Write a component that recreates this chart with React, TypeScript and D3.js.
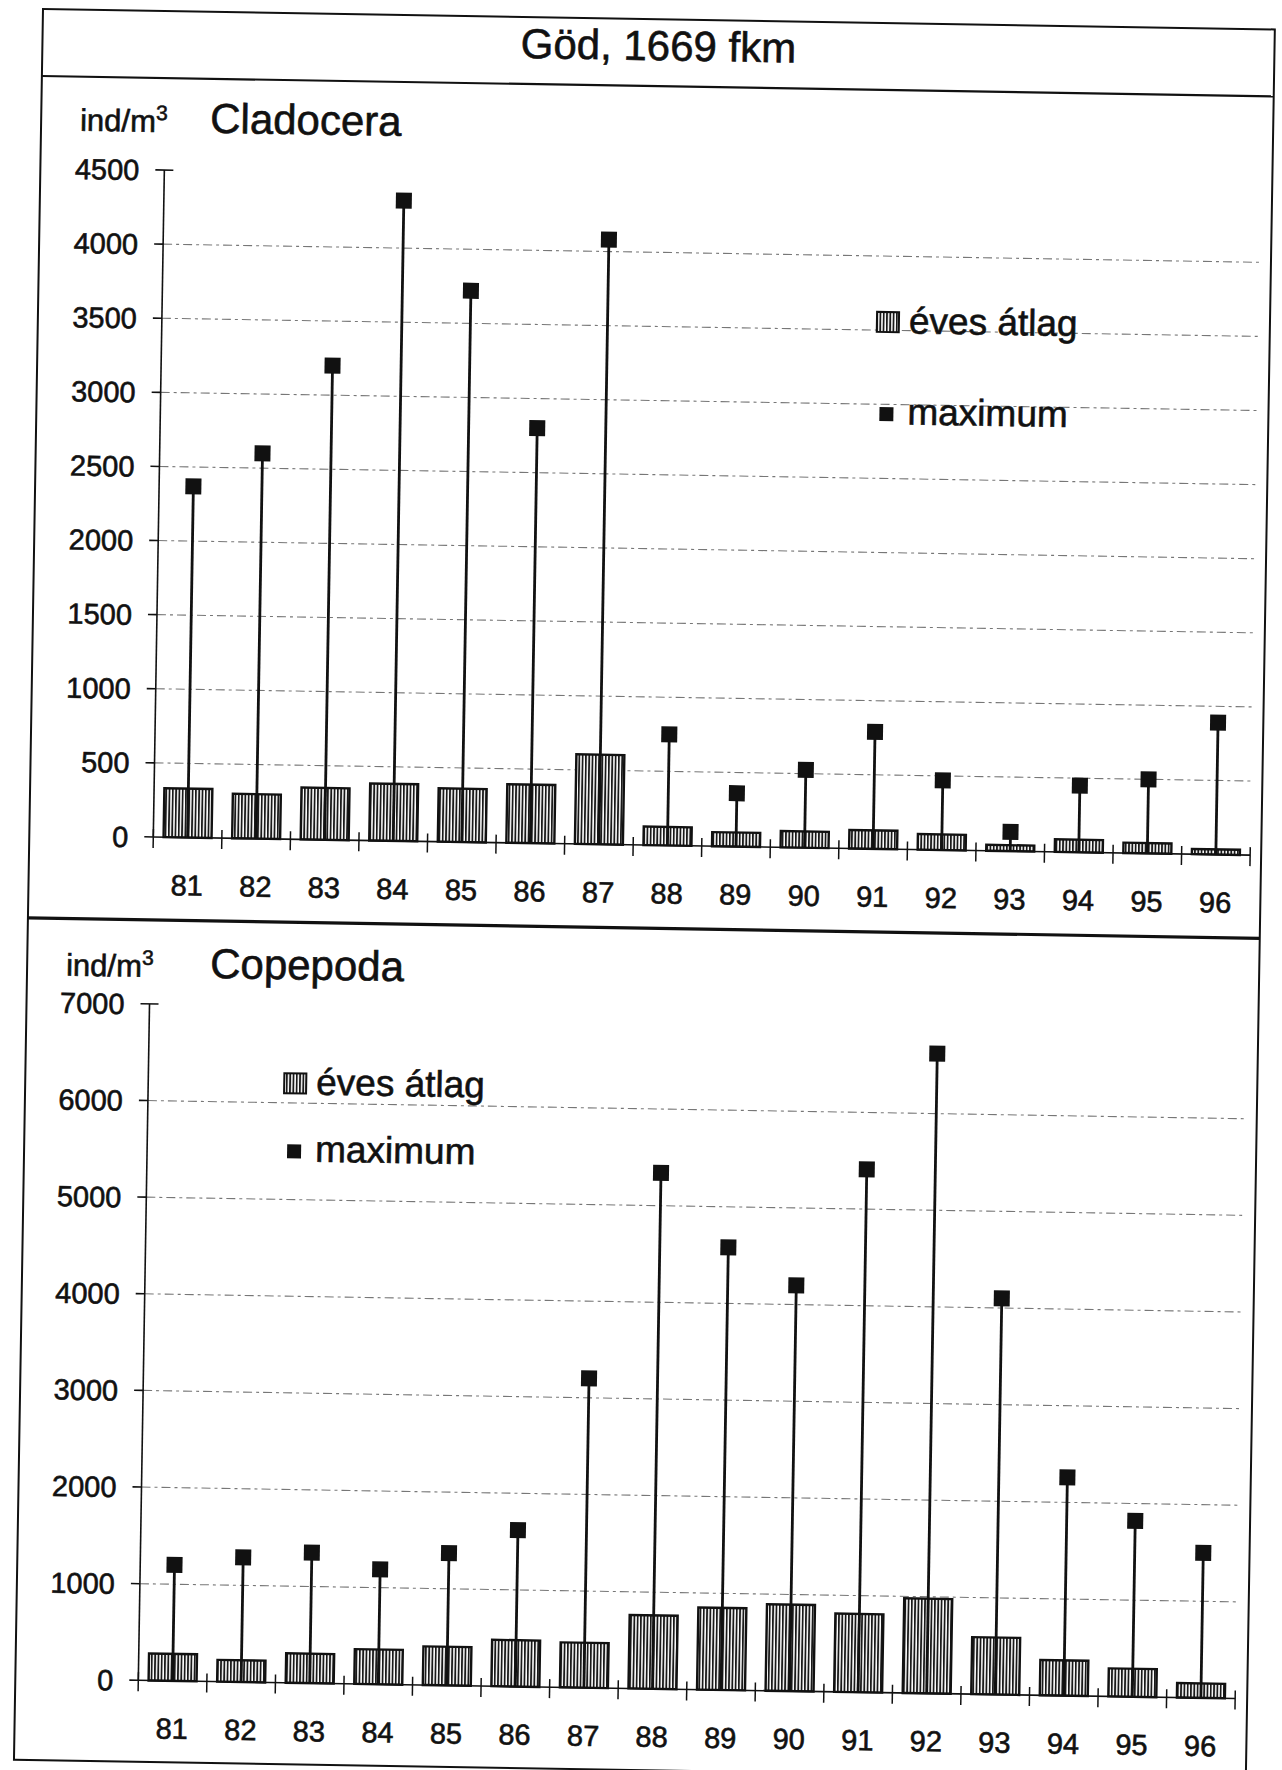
import React from "react";
import * as d3 from "d3";

const title = "Göd, 1669 fkm";
const unitLabel = "ind/m";
const legendLabels = ["éves átlag", "maximum"];
const years = ["81", "82", "83", "84", "85", "86", "87", "88", "89", "90", "91", "92", "93", "94", "95", "96"];

const cladoceraMean = [330, 300, 350, 385, 360, 395, 605, 125, 95, 110, 125, 105, 40, 85, 70, 35];
const cladoceraMax = [2370, 2600, 3200, 4320, 3720, 2800, 4080, 750, 360, 525, 790, 470, 130, 450, 500, 890];
const cladoceraTicks = [0, 500, 1000, 1500, 2000, 2500, 3000, 3500, 4000, 4500];

const copepodaMean = [280, 225, 305, 360, 400, 480, 465, 760, 850, 895, 810, 980, 590, 365, 290, 150];
const copepodaMax = [1200, 1290, 1350, 1190, 1370, 1620, 3200, 5340, 4580, 4200, 5410, 6620, 4100, 2260, 1820, 1500];
const copepodaTicks = [0, 1000, 2000, 3000, 4000, 5000, 6000, 7000];

const FONT = "'Liberation Sans', Arial, Helvetica, sans-serif";
const INK = "#111";
const TXT = { fontFamily: FONT, fill: INK, stroke: INK, strokeWidth: 0.6 };

type PanelProps = {
  name: string;
  mean: number[];
  max: number[];
  ticks: number[];
  axisX: number;
  right: number;
  yTop: number;
  yZero: number;
  labelY: number;
  nameX: number;
  legendX: number;
  legendY1: number;
  legendY2: number;
};

function Panel(p: PanelProps) {
  const yMax = p.ticks[p.ticks.length - 1];
  const y = d3.scaleLinear().domain([0, yMax]).range([p.yZero, p.yTop]);
  const x = d3.scaleBand<string>().domain(years).range([p.axisX, p.right]).paddingInner(0.3).paddingOuter(0.15);
  const step = x.step();
  const bw = x.bandwidth();
  const boundaries = d3.range(years.length + 1).map((i) => p.axisX + i * step);
  const ms = 16;
  return (
    <g>
      <text x={39} y={p.labelY} fontSize={31} {...TXT}>
        {unitLabel}
        <tspan fontSize={21} dy={-12}>3</tspan>
      </text>
      <text x={p.nameX} y={p.labelY} fontSize={42} {...TXT}>{p.name}</text>

      {p.ticks.filter((t) => t > 0 && t < yMax).map((t) => (
        <line key={"g" + t} x1={p.axisX} x2={p.right} y1={y(t)} y2={y(t)} stroke="#777" strokeWidth={1.1} strokeDasharray="9 4 3 4" />
      ))}

      <line x1={p.axisX} x2={p.axisX} y1={y(yMax)} y2={y(0)} stroke={INK} strokeWidth={1.6} />
      {p.ticks.map((t) => (
        <g key={"t" + t}>
          <line x1={p.axisX - 9} x2={p.axisX + (t === yMax ? 9 : 0)} y1={y(t)} y2={y(t)} stroke={INK} strokeWidth={1.6} />
          <text x={p.axisX - 25} y={y(t)} dy="0.36em" textAnchor="end" fontSize={29} {...TXT}>{t}</text>
        </g>
      ))}

      {years.map((yr, i) => (
        <rect key={"b" + yr} x={x(yr)!} y={y(p.mean[i])} width={bw} height={y(0) - y(p.mean[i])}
          fill="url(#hatch)" stroke={INK} strokeWidth={2.4} />
      ))}

      {years.map((yr, i) => {
        const cx = x(yr)! + bw / 2;
        return (
          <g key={"m" + yr}>
            <line x1={cx} x2={cx} y1={y(p.max[i])} y2={y(0)} stroke={INK} strokeWidth={2.8} />
            <rect x={cx - ms / 2} y={y(p.max[i]) - ms / 2} width={ms} height={ms} fill={INK} />
          </g>
        );
      })}

      <line x1={p.axisX} x2={p.right} y1={y(0)} y2={y(0)} stroke={INK} strokeWidth={1.6} />
      {boundaries.map((bx, i) => (
        <line key={"xt" + i} x1={bx} x2={bx} y1={y(0) - 8} y2={y(0) + 11} stroke={INK} strokeWidth={1.5} />
      ))}
      {years.map((yr) => (
        <text key={"xl" + yr} x={x(yr)! + bw / 2} y={y(0) + 58} textAnchor="middle" fontSize={29} {...TXT}>{yr}</text>
      ))}

      <rect x={p.legendX - 11} y={p.legendY1 - 21} width={22} height={20} fill="url(#hatch)" stroke={INK} strokeWidth={2} />
      <text x={p.legendX + 21} y={p.legendY1} fontSize={37} {...TXT}>{legendLabels[0]}</text>
      <rect x={p.legendX - 7} y={p.legendY2 - 17} width={14} height={14} fill={INK} />
      <text x={p.legendX + 21} y={p.legendY2} fontSize={37} {...TXT}>{legendLabels[1]}</text>
    </g>
  );
}

export default function App() {
  const W = 1232;
  const H = 1751;
  return (
    <div style={{ position: "absolute", left: 0, top: 0, width: 1282, height: 1770, background: "#fff" }}>
      <svg width={1282} height={1770} style={{ display: "block" }}>
        <defs>
          <pattern id="hatch" patternUnits="userSpaceOnUse" width={3.3} height={10}>
            <rect width={3.3} height={10} fill="#fff" />
            <rect x={0} width={1.8} height={10} fill="#1a1a1a" />
          </pattern>
        </defs>
        <rect width={1282} height={1770} fill="#fff" />
        <g transform="translate(43,9) rotate(0.95)">
          <rect x={0} y={0} width={W} height={H} fill="none" stroke={INK} strokeWidth={2} />
          <line x1={0} x2={W} y1={67} y2={67} stroke={INK} strokeWidth={2.2} />
          <line x1={0} x2={W} y1={909} y2={909} stroke={INK} strokeWidth={3.2} />
          <text x={616} y={41} textAnchor="middle" fontSize={42} {...TXT}>{title}</text>
          <Panel name="Cladocera" mean={cladoceraMean} max={cladoceraMax} ticks={cladoceraTicks}
            axisX={124} right={1221} yTop={159} yZero={826} labelY={121} nameX={169}
            legendX={850} legendY1={310} legendY2={401} />
          <Panel name="Copepoda" mean={copepodaMean} max={copepodaMax} ticks={copepodaTicks}
            axisX={123} right={1220} yTop={993} yZero={1669.5} labelY={966} nameX={183}
            legendX={270} legendY1={1081} legendY2={1148} />
        </g>
      </svg>
    </div>
  );
}
